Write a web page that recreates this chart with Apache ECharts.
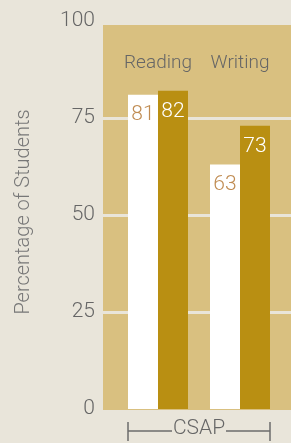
<!DOCTYPE html>
<html><head><meta charset="utf-8">
<script src="https://cdn.jsdelivr.net/npm/echarts@6/dist/echarts.min.js"></script>
<style>html,body{margin:0;padding:0;background:#e9e5da;}#c{width:291px;height:443px;}</style>
</head><body><div id="c"></div>
<script>
var categories = ['Reading', 'Writing'];
var seriesA = [81, 63];
var seriesB = [82, 73];
var yTicks = [0, 25, 50, 75, 100];
var axisTitle = 'Percentage of Students';
var groupLabel = 'CSAP';

var FONT = 'Roboto, "DejaVu Sans Condensed", sans-serif';
var chart = echarts.init(document.getElementById('c'));
chart.setOption({
  backgroundColor: '#e9e5da',
  animation: false,
  graphic: [
    {type: 'rect', z: -100, shape: {x: 103, y: 25, width: 188, height: 385}, style: {fill: '#d9c080'}},
    {type: 'line', shape: {x1: 128, y1: 431, x2: 172, y2: 431}, style: {stroke: '#6b6b6b', lineWidth: 1.5}},
    {type: 'line', shape: {x1: 226, y1: 431, x2: 270, y2: 431}, style: {stroke: '#6b6b6b', lineWidth: 1.5}},
    {type: 'line', shape: {x1: 128, y1: 422, x2: 128, y2: 441}, style: {stroke: '#6b6b6b', lineWidth: 1.5}},
    {type: 'line', shape: {x1: 270, y1: 422, x2: 270, y2: 441}, style: {stroke: '#6b6b6b', lineWidth: 1.5}},
    {type: 'text', x: 199, y: 429, style: {text: groupLabel, fill: '#666', font: '300 21px ' + FONT, textAlign: 'center', textVerticalAlign: 'middle'}}
  ],
  grid: [
    {left: 117, right: 10, top: 21, bottom: 34},
    {left: 103, right: 0, top: 118, bottom: 131}
  ],
  xAxis: [
    {type: 'category', gridIndex: 0, data: categories, position: 'top',
     axisLine: {show: false}, axisTick: {show: false},
     axisLabel: {interval: 0, color: '#666', fontSize: 19, fontWeight: 300, fontFamily: FONT, margin: -52}},
    {type: 'category', gridIndex: 1, data: categories, show: false}
  ],
  yAxis: [
    {type: 'value', gridIndex: 0, min: yTicks[0], max: yTicks[yTicks.length - 1], interval: 25,
     splitLine: {show: false}, axisLine: {show: false}, axisTick: {show: false},
     axisLabel: {color: '#666', fontSize: 21, fontWeight: 300, fontFamily: FONT, margin: 22, verticalAlign: 'middle', padding: [0, 0, 2, 0]},
     name: axisTitle, nameLocation: 'middle', nameRotate: 90, nameGap: 83,
     nameTextStyle: {color: '#777', fontSize: 20, fontWeight: 300, fontFamily: FONT, padding: [0, 0, 0, 6]}},
    {type: 'value', gridIndex: 1, min: 25, max: 75, interval: 25,
     axisLine: {show: false}, axisTick: {show: false}, axisLabel: {show: false},
     splitLine: {show: true, lineStyle: {color: '#e9e5da', width: 3}}}
  ],
  series: [
    {type: 'bar', xAxisIndex: 0, yAxisIndex: 0, data: seriesA, barWidth: 30, barGap: '0%',
     itemStyle: {color: '#ffffff'},
     label: {show: true, position: 'insideTop', distance: 10, color: '#c08c52', fontSize: 21, fontWeight: 300, fontFamily: FONT}},
    {type: 'bar', xAxisIndex: 0, yAxisIndex: 0, data: seriesB, barWidth: 30, barGap: '0%',
     itemStyle: {color: '#b98f12'},
     label: {show: true, position: 'insideTop', distance: 10, color: '#ffffff', fontSize: 21, fontWeight: 300, fontFamily: FONT}}
  ]
});
</script></body></html>
